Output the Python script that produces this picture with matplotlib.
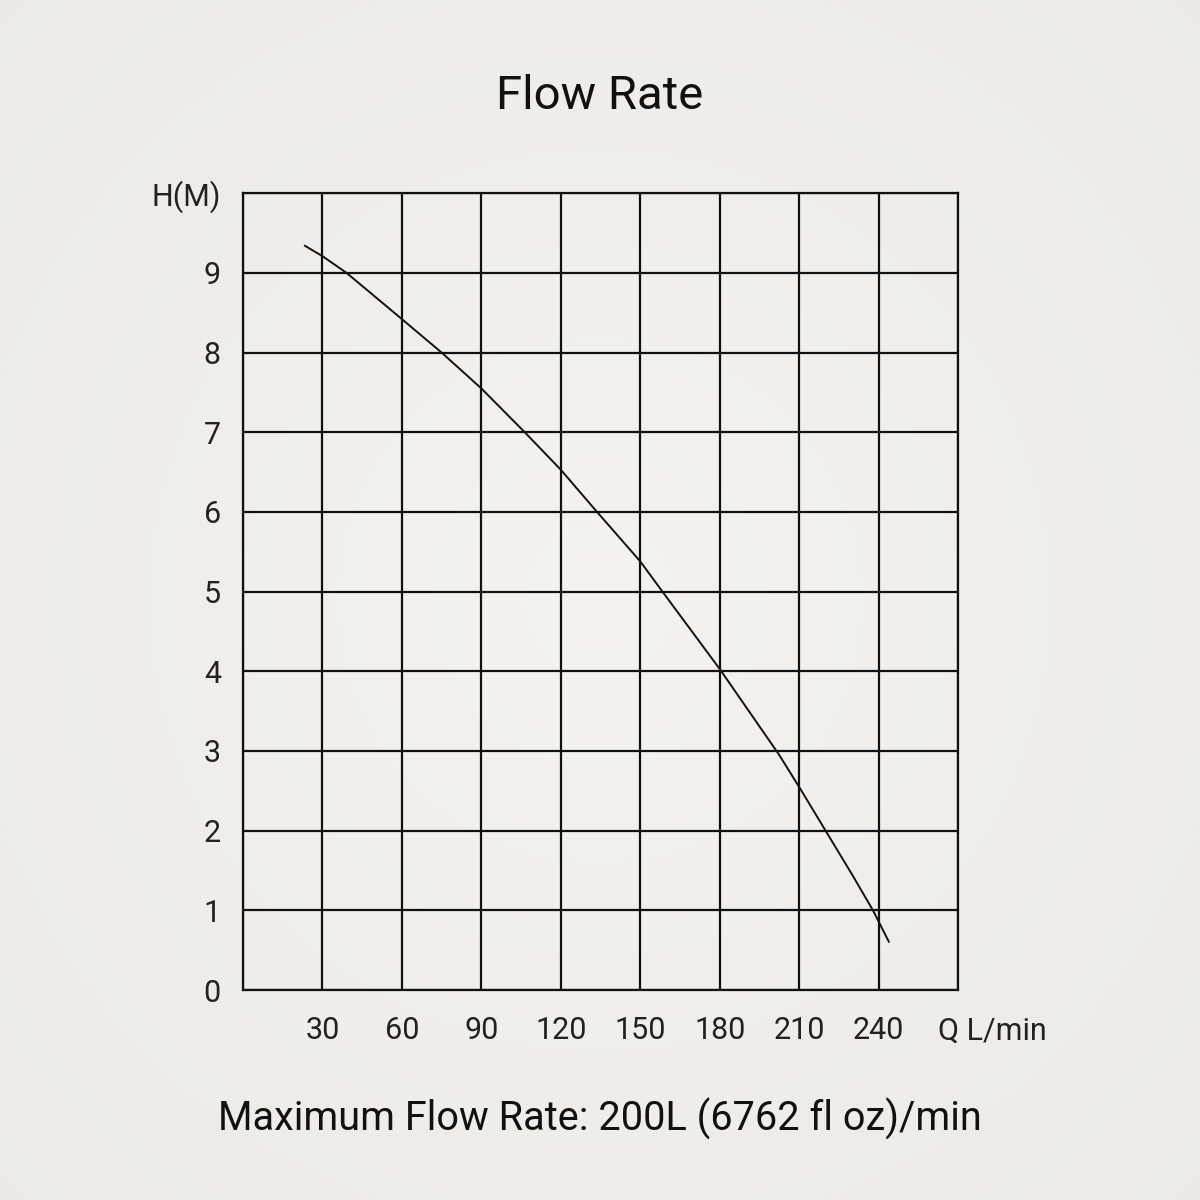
import matplotlib
matplotlib.use("Agg")
import matplotlib.pyplot as plt
import numpy as np

plt.rcParams['font.family'] = ['Roboto', 'DejaVu Sans']

# Data
flow = [23.4, 30, 39.1, 60, 75, 90, 106.4, 120, 133.7, 150, 158.4, 180, 190, 202.3, 210, 220, 230, 237.9, 243.9]
head = [9.34, 9.21, 9.0, 8.42, 8.0, 7.55, 7.0, 6.53, 6.0, 5.38, 5.0, 4.03, 3.55, 2.96, 2.55, 2.0, 1.45, 1.0, 0.606]

x_ticks = [0, 30, 60, 90, 120, 150, 180, 210, 240, 270]
x_labels = ['', '30', '60', '90', '120', '150', '180', '210', '240', '']
y_ticks = [0, 1, 2, 3, 4, 5, 6, 7, 8, 9, 10]
y_labels = ['0', '1', '2', '3', '4', '5', '6', '7', '8', '9', 'H(M)']

title = "Flow Rate"
x_unit = "Q L/min"
footer = "Maximum Flow Rate: 200L (6762 fl oz)/min"

fig = plt.figure(figsize=(12, 12), dpi=100)
fig.patch.set_facecolor('#ebebeb')

# soft background
bg = fig.add_axes([0, 0, 1, 1], zorder=-10)
yy, xx = np.mgrid[0:1:300j, 0:1:300j]
r = np.sqrt((xx - 0.5) ** 2 + (yy - 0.5) ** 2)
v = 0.955 - 0.05 * r
img = np.dstack([v, v * 0.997, v * 0.99])
bg.imshow(np.clip(img, 0, 1), extent=[0, 1, 0, 1], aspect='auto')
bg.axis('off')

ax = fig.add_axes([0.2025, 0.175, 0.5958, 0.664])
ax.set_facecolor('none')
ax.set_xlim(0, 270)
ax.set_ylim(0, 10)

ax.set_xticks(x_ticks)
ax.set_xticklabels(x_labels)
ax.set_yticks(y_ticks)
ax.set_yticklabels(y_labels)
ax.tick_params(axis='both', length=0, labelsize=22, colors='#222222')
ax.tick_params(axis='y', pad=16)
ax.tick_params(axis='x', pad=19)
ax.grid(True, color='#111111', linewidth=1.6)
for s in ax.spines.values():
    s.set_color('#111111')
    s.set_linewidth(1.6)

ax.plot(flow, head, color='#111111', linewidth=1.4, zorder=5)

# place unit label at same vertical position as tick labels
fig.canvas.draw()
lbl = ax.get_xticklabels()[1]
bb = lbl.get_window_extent()
inv = fig.transFigure.inverted()
ycen = inv.transform((0, (bb.y0 + bb.y1) / 2))[1]
xq = ax.transData.transform((283, 0))[0]
fig.text(inv.transform((xq, 0))[0], ycen, x_unit, ha='center', va='center',
         fontsize=22, color='#222222')

fig.text(0.5, 1 - 96 / 1200, title, ha='center', va='center', fontsize=34, color='#111111')
fig.text(0.5, 1 - 1119 / 1200, footer, ha='center', va='center', fontsize=28.5, color='#111111')

fig.savefig('out.png', dpi=100, facecolor=fig.get_facecolor())
